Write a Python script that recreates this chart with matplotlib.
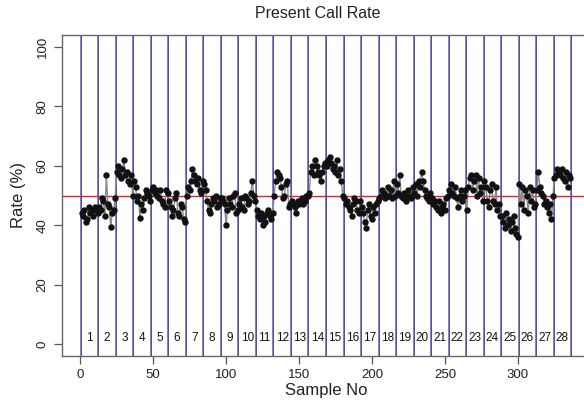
import numpy as np
import matplotlib
matplotlib.use("Agg")
from matplotlib import pyplot as plt

plt.rcParams["font.family"] = ["Liberation Sans", "DejaVu Sans"]

# present call rate (%) per sample, grouped by batch (12 samples each)
batch_rates = [
    [44, 43, 45, 41, 42, 46, 44, 45, 43, 46, 45, 44],
    [46, 45, 49, 48, 43, 57, 47, 46, 39.5, 44, 45, 49],
    [58, 60, 57, 56, 59, 62, 57, 58, 55, 54, 57, 50],
    [55, 53, 48, 50, 42.5, 47, 45, 49, 52, 51, 50, 48],
    [52, 53, 51, 52, 50, 49, 52, 48, 47, 46, 52, 51],
    [48, 46, 43, 45, 49, 51, 44, 43, 47, 46, 42, 41],
    [50, 53, 52, 55, 59, 57, 55, 54, 56, 52, 51, 55],
    [54, 52, 48, 45, 44, 47, 49, 48, 50, 46, 47, 49],
    [49, 48, 47, 40, 45, 49, 47, 46, 50, 51, 44, 45],
    [47, 49, 46, 45, 50, 49, 47, 48, 51, 55, 50, 48],
    [45, 43, 42, 44, 40, 43, 41, 44, 45, 43, 42, 44],
    [50, 55, 58, 57, 56, 53, 49, 50, 54, 55, 46, 47],
    [48, 47, 46, 44, 48, 47, 48, 49, 47, 48, 50, 50],
    [51, 58, 60, 57, 62, 60, 58, 57, 55, 58, 60, 61],
    [60, 62, 63, 61, 59, 60, 58, 62, 57, 59, 55, 50],
    [49, 47, 48, 46, 45, 43, 47, 49, 48, 45, 44, 48],
    [46, 44, 41, 39, 45, 47, 43, 42, 46, 44, 47, 48],
    [49, 50, 52, 51, 49, 50, 53, 50, 52, 49, 55, 50],
    [54, 51, 57, 50, 49, 51, 48, 50, 52, 50, 49, 53],
    [51, 54, 50, 55, 53, 58, 55, 52, 50, 49, 48, 51],
    [49, 47, 48, 46, 45, 48, 44, 46, 47, 45, 49, 50],
    [52, 54, 51, 50, 53, 49, 46, 50, 52, 48, 50, 52],
    [45, 53, 56, 57, 52, 55, 57, 50, 56, 51, 53, 48],
    [55, 53, 48, 46, 52, 54, 48, 47, 53, 45, 47, 43],
    [43, 41, 39, 44, 40, 42, 38, 41, 43, 39, 37, 36],
    [54, 47, 53, 45, 52, 50, 44, 53, 48, 52, 46, 47],
    [52, 58, 53, 51, 50, 47, 48, 46, 44, 47, 42, 50],
    [56, 57, 59, 58, 57, 59, 56, 55, 58, 53, 57, 56],
]
batch_labels = [str(i + 1) for i in range(len(batch_rates))]
threshold = 50

rates = np.concatenate([np.array(b, dtype=float) for b in batch_rates])
sample_no = np.arange(1, len(rates) + 1)
sizes = np.array([len(b) for b in batch_rates])
edges = np.concatenate([[0], np.cumsum(sizes)]) + 0.5
centers = (edges[:-1] + edges[1:]) / 2

W, H = 584, 405
fig = plt.figure(figsize=(W / 100, H / 100), dpi=100)
# plot region runs past the right edge of the figure
left, right, top, bottom = 62, 590, 35, 356
ax = fig.add_axes([left / W, 1 - bottom / H, (right - left) / W, (bottom - top) / H])

for e in edges:
    ax.axvline(e, color="#8080c0", lw=1.4, zorder=1)
    ax.axvline(e, color="#3c3c96", lw=0.5, zorder=1)
ax.axhline(threshold, color="#e8202a", lw=1.0, zorder=2)

ax.plot(sample_no, rates, color="#8a8a8a", lw=1.0, zorder=3)
ax.plot(sample_no, rates, "o", color="#111111", ms=3.6, zorder=4)

for c, lab in zip(centers, batch_labels):
    ax.text(c, 2, lab, ha="center", va="center", fontsize=8.5, color="#111111")

n = len(rates)
pad = 0.04 * (n - 1)
ax.set_xlim(1 - pad, n + pad)
ax.set_ylim(-4, 104)
ax.set_xticks([0, 50, 100, 150, 200, 250, 300])
ax.set_yticks([0, 20, 40, 60, 80, 100])
ax.tick_params(axis="both", direction="out", length=6, width=0.9, color="#555555",
               labelsize=9.5, labelcolor="#222222")
for lab in ax.get_yticklabels():
    lab.set_rotation(90)
    lab.set_va("center")
for side in ["left", "bottom", "top"]:
    ax.spines[side].set_color("#666666")
    ax.spines[side].set_linewidth(1.0)
ax.spines["right"].set_visible(False)

ax.set_xlabel("Sample No", fontsize=12, color="#222222", labelpad=1)
ax.set_ylabel("Rate (%)", fontsize=12, color="#222222", labelpad=8)
fig.text(318 / W, 1 - 14 / H, "Present Call Rate", ha="center", va="center",
         fontsize=11.5, color="#222222")

fig.savefig("out.png", dpi=100)
